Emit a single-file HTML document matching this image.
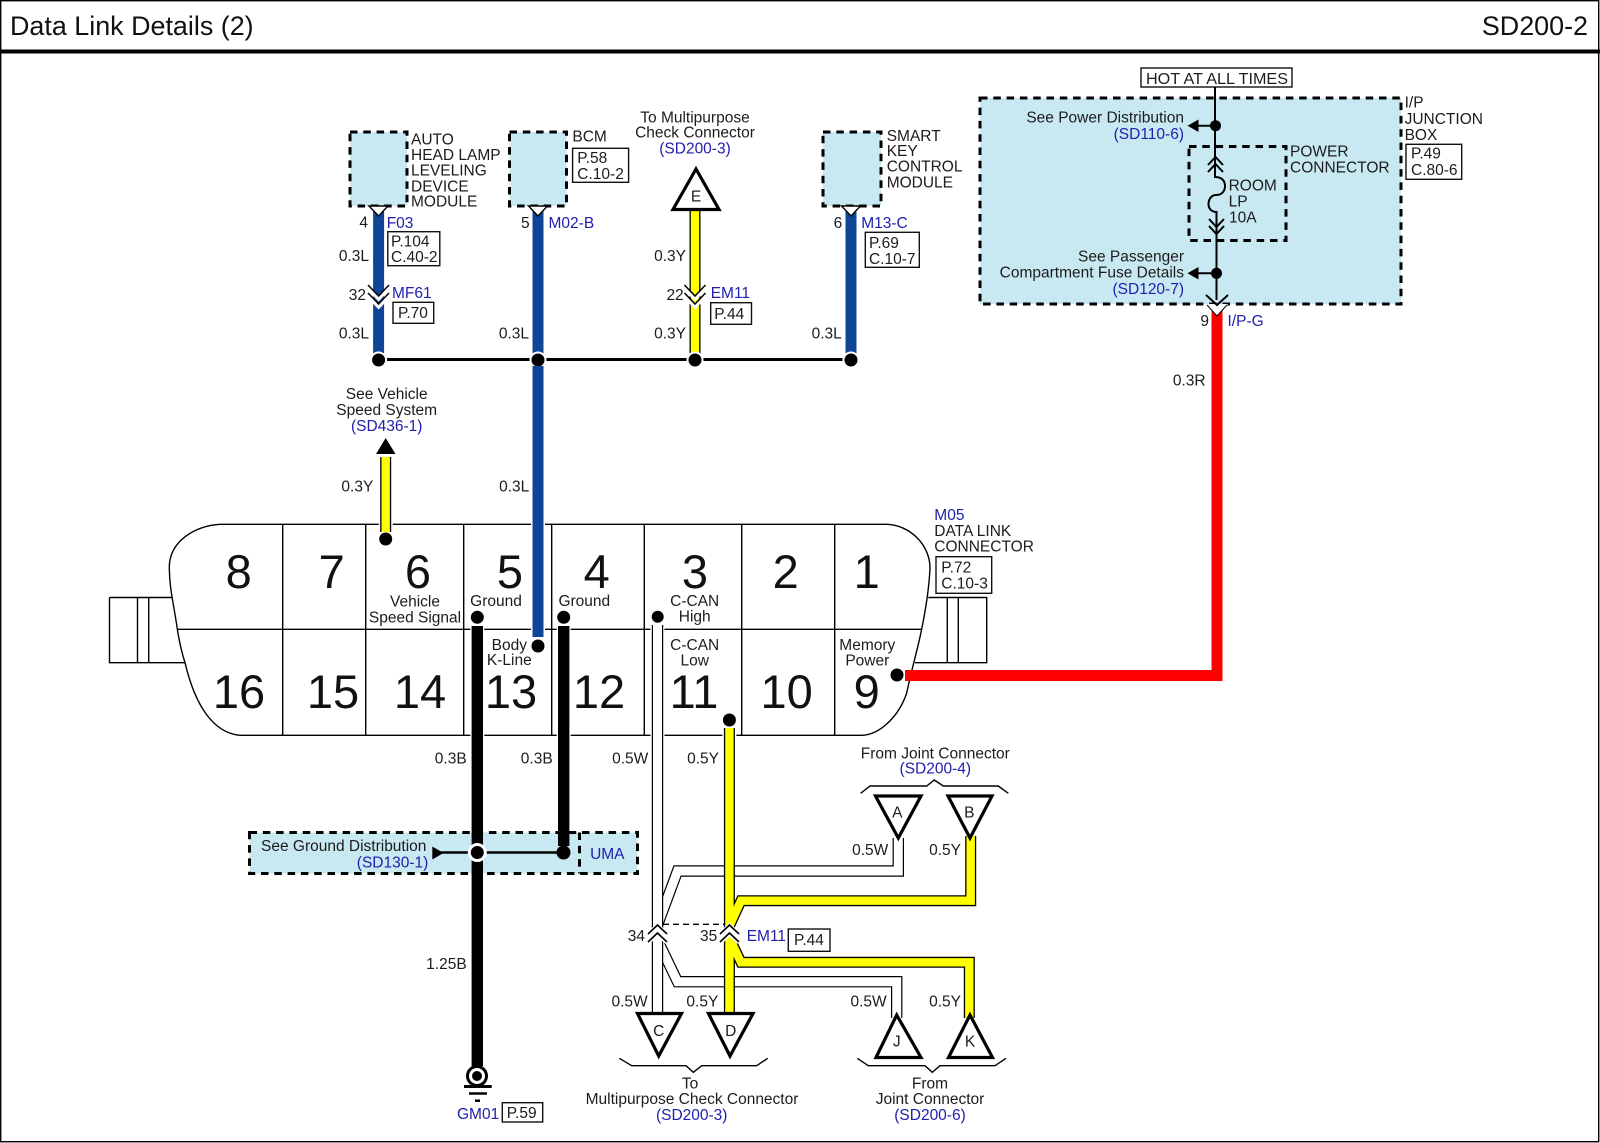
<!DOCTYPE html>
<html><head><meta charset="utf-8"><title>Data Link Details (2)</title>
<style>
html,body{margin:0;padding:0;background:#fff}
svg{display:block}
text{font-family:"Liberation Sans",sans-serif;font-size:15.5px;fill:#1c1c1c}
.r{text-anchor:end}.m{text-anchor:middle}
.b{fill:#2020ae}
.n{font-size:47px;text-anchor:middle;fill:#111}
.t{font-size:26.9px;fill:#111}
.box{fill:#fff;stroke:#111;stroke-width:1.4}
.dash{fill:#c8e9f2;stroke:#000;stroke-width:3;stroke-dasharray:7.5 5.8}
.thin{fill:none;stroke:#000;stroke-width:1.4}
.med{fill:none;stroke:#000;stroke-width:2}
.tri{fill:#fff;stroke:#000;stroke-width:3.2;stroke-linejoin:miter}
.halo{fill:none;stroke:#fff;stroke-width:14}
.bk{fill:none;stroke:#000;stroke-width:11.4}
.bl{fill:none;stroke:#0f4597;stroke-width:11}
.ykb{fill:none;stroke:#000;stroke-width:11;stroke-linejoin:miter}
.yk{fill:none;stroke:#ffff00;stroke-width:8.4;stroke-linejoin:miter}
.wkb{fill:none;stroke:#000;stroke-width:11.4;stroke-linejoin:miter}
.wk{fill:none;stroke:#fff;stroke-width:9}
</style></head><body>
<svg width="1600" height="1143" viewBox="0 0 1600 1143" xmlns="http://www.w3.org/2000/svg">
<rect width="1600" height="1143" fill="#fff"/>
<rect x="0.7" y="0.7" width="1598" height="1141" fill="none" stroke="#000" stroke-width="1.4"/>
<rect x="0" y="49.5" width="1600" height="4" fill="#000"/>
<text class="t" x="10" y="35">Data Link Details (2)</text>
<text class="t r" x="1588" y="35">SD200-2</text>

<!-- modules -->
<rect class="dash" x="350" y="132" width="57" height="74"/>
<rect class="dash" x="509.500" y="132" width="57" height="74"/>
<rect class="dash" x="823" y="132" width="58" height="74"/>
<rect class="dash" x="980" y="98" width="421" height="206"/>
<rect class="dash" x="1189" y="146.500" width="97" height="94"/>
<rect class="dash" x="249.500" y="832.500" width="388" height="41"/>
<line x1="579.500" y1="832.500" x2="579.500" y2="873.500" stroke="#000" stroke-width="3" stroke-dasharray="7.5 5.8"/>

<text x="411" y="144.300">AUTO</text><text x="411" y="160">HEAD LAMP</text><text x="411" y="175.700">LEVELING</text><text x="411" y="191.700">DEVICE</text><text x="411" y="206.700">MODULE</text>
<text x="572.400" y="141.700">BCM</text>
<rect class="box" x="572.600" y="148.300" width="56" height="34"/>
<text x="577.300" y="163">P.58</text><text x="577.300" y="179">C.10-2</text>
<text class="m" x="695" y="122.700">To Multipurpose</text><text class="m" x="695" y="137.700">Check Connector</text><text class="m b" x="695" y="153.300">(SD200-3)</text>
<text x="886.700" y="141">SMART</text><text x="886.700" y="156">KEY</text><text x="886.700" y="171.700">CONTROL</text><text x="886.700" y="187.700">MODULE</text>

<!-- top wires -->
<line class="bl" x1="378.600" y1="206" x2="378.600" y2="356"/>
<line class="bl" x1="538" y1="206" x2="538" y2="637"/>
<line class="bl" x1="851" y1="206" x2="851" y2="356"/>
<line class="ykb" x1="695" y1="210" x2="695" y2="354"/>
<line class="yk" x1="695" y1="210" x2="695" y2="354"/>
<polygon class="tri" points="696,169 673,209.500 719,209.500"/>
<text class="m" x="696" y="201.700">E</text>

<line x1="378" y1="359.500" x2="851" y2="359.500" stroke="#000" stroke-width="3"/>
<g fill="#000" stroke="#fff" stroke-width="2">
<circle cx="378.600" cy="360" r="7.500"/><circle cx="538" cy="360" r="7.500"/><circle cx="695" cy="360" r="7.500"/><circle cx="851" cy="360" r="7.500"/>
</g>

<!-- chevrons on top -->
<g stroke-linejoin="miter">
<polygon points="369,206 378.600,216 388,206" fill="#fff" stroke="#000" stroke-width="1.4"/>
<polygon points="528.500,206 538,216 547.500,206" fill="#fff" stroke="#000" stroke-width="1.4"/>
<polygon points="841.500,206 851,216 860.500,206" fill="#fff" stroke="#000" stroke-width="1.4"/>
<polyline points="368,288 378.600,299 389,288" fill="none" stroke="#fff" stroke-width="3.5"/>
<polyline points="368,285 378.600,296 389,285" fill="none" stroke="#000" stroke-width="1.5"/>
<polyline points="368,296 378.600,307 389,296" fill="none" stroke="#fff" stroke-width="3.5"/>
<polyline points="368,293 378.600,304 389,293" fill="none" stroke="#000" stroke-width="1.5"/>
<polyline points="684.500,288 695,299 705.500,288" fill="none" stroke="#fff" stroke-width="3.5"/>
<polyline points="684.500,285 695,296 705.500,285" fill="none" stroke="#000" stroke-width="1.5"/>
<polyline points="684.500,296 695,307 705.500,296" fill="none" stroke="#fff" stroke-width="3.5"/>
<polyline points="684.500,293 695,304 705.500,293" fill="none" stroke="#000" stroke-width="1.5"/>
</g>

<text class="r" x="368" y="227.700">4</text>
<text class="b" x="386.700" y="228">F03</text>
<rect class="box" x="387.800" y="231.700" width="52" height="34"/>
<text x="391" y="246.700">P.104</text><text x="391" y="262">C.40-2</text>
<text class="r" x="369" y="261">0.3L</text>
<text class="r" x="366" y="300">32</text>
<text class="b" x="392" y="298">MF61</text>
<rect class="box" x="393" y="302.300" width="40.700" height="21"/>
<text x="398" y="318">P.70</text>
<text class="r" x="369" y="338.700">0.3L</text>
<text class="r" x="529.600" y="228">5</text>
<text class="b" x="548.500" y="228">M02-B</text>
<text class="r" x="529" y="338.700">0.3L</text>
<text class="r" x="686" y="261">0.3Y</text>
<text class="r" x="683.700" y="300">22</text>
<text class="b" x="710.700" y="298">EM11</text>
<rect class="box" x="710.700" y="302.700" width="40.800" height="21.600"/>
<text x="714.300" y="319">P.44</text>
<text class="r" x="686" y="338.700">0.3Y</text>
<text class="r" x="842.300" y="228">6</text>
<text class="b" x="861.200" y="228">M13-C</text>
<rect class="box" x="865.300" y="232.300" width="54" height="35"/>
<text x="869" y="248">P.69</text><text x="869" y="264">C.10-7</text>
<text class="r" x="841.800" y="338.700">0.3L</text>

<!-- junction box -->
<rect class="box" x="1141" y="68" width="151" height="19"/>
<text x="1146" y="84" textLength="142" lengthAdjust="spacingAndGlyphs">HOT AT ALL TIMES</text>
<text x="1404.600" y="107.700">I/P</text><text x="1404.600" y="124">JUNCTION</text><text x="1404.600" y="140">BOX</text>
<rect class="box" x="1406" y="144.300" width="55.700" height="35"/>
<text x="1411" y="158.700">P.49</text><text x="1411" y="175">C.80-6</text>
<text class="r" x="1184" y="122.700">See Power Distribution</text><text class="r b" x="1184" y="139">(SD110-6)</text>
<text class="r" x="1184" y="261.700">See Passenger</text><text class="r" x="1184" y="277.700">Compartment Fuse Details</text><text class="r b" x="1184" y="294">(SD120-7)</text>
<text x="1290" y="156.700">POWER</text><text x="1290" y="172.700">CONNECTOR</text>
<text x="1228.600" y="190.700">ROOM</text><text x="1228.600" y="206.700">LP</text><text x="1229" y="222.700">10A</text>
<path class="med" d="M1215 87V177C1222 177 1225 181 1225 186C1225 191 1222 195 1216 195C1211 195 1208.500 200 1208.500 204C1208.500 208 1211 212 1216.500 212V300"/>
<polyline class="med" points="1208,165 1215.500,157 1223,165"/>
<polyline class="med" points="1208,172 1215.500,164 1223,172"/>
<polyline class="med" points="1209,219 1216.500,227 1224,219"/>
<polyline class="med" points="1209,226 1216.500,234 1224,226"/>
<circle cx="1215.500" cy="125.700" r="5.500" fill="#000"/>
<circle cx="1216.500" cy="273.300" r="5.500" fill="#000"/>
<line x1="1196" y1="125.700" x2="1215" y2="125.700" stroke="#000" stroke-width="2"/>
<polygon points="1187.500,125.700 1198.500,119.500 1198.500,132" fill="#000"/>
<line x1="1196" y1="273.300" x2="1215" y2="273.300" stroke="#000" stroke-width="2"/>
<polygon points="1187.500,273.300 1198.500,267 1198.500,279.500" fill="#000"/>

<!-- connector body -->
<path class="thin" d="M109.500 597.500H171.500M109.500 597.500V662.700H185M137.500 597.500V662.700M148.700 597.500V662.700"/>
<path class="thin" d="M928.300 597.500H986.700V662.700H915M947.300 597.500V662.700M958.300 597.500V662.700"/>
<path fill="#fff" stroke="#000" stroke-width="1.400" d="M220 524.300H886.700C910 525 930 545 930 568C929 590 926 608 921.700 629C918 648 911 672 906.700 693C899 716 880 735 861.700 735.300H240C213 733 195 705 185 662.700C181 650 179 640 177.300 629C174 605 169.500 590 169.300 568C169 541 195 526 220 524.300Z"/>
<path class="thin" d="M177.300 629.300H921.700M282.700 524.300V735.300M365.700 524.300V735.300M463.700 524.300V735.300M551.700 524.300V735.300M644.300 524.300V735.300M741.700 524.300V735.300M834.700 524.300V735.300"/>
<g>
<text class="n" x="238.700" y="588">8</text><text class="n" x="331.700" y="588">7</text><text class="n" x="418" y="588">6</text><text class="n" x="510" y="588">5</text><text class="n" x="596.700" y="588">4</text><text class="n" x="695" y="588">3</text><text class="n" x="785.700" y="588">2</text><text class="n" x="866.700" y="588">1</text>
<text class="n" x="239" y="708">16</text><text class="n" x="333" y="708">15</text><text class="n" x="420" y="708">14</text><text class="n" x="511" y="708">13</text><text class="n" x="599" y="708">12</text><text class="n" x="694" y="708">11</text><text class="n" x="786.700" y="708">10</text><text class="n" x="866.700" y="708">9</text>
</g>
<text class="m" x="415" y="606.700">Vehicle</text><text class="m" x="415" y="622.700">Speed Signal</text>
<text class="m" x="496" y="606">Ground</text><text class="m" x="584.300" y="606">Ground</text>
<text class="m" x="509.300" y="650">Body</text><text class="m" x="509.300" y="665">K-Line</text>
<text class="m" x="694.700" y="606">C-CAN</text><text class="m" x="694.700" y="621.700">High</text>
<text class="m" x="694.700" y="650">C-CAN</text><text class="m" x="694.700" y="665.700">Low</text>
<text class="m" x="867.300" y="650">Memory</text><text class="m" x="867.300" y="665.700">Power</text>
<text class="b" x="934.300" y="520">M05</text><text x="934.300" y="536">DATA LINK</text><text x="934.300" y="551.700">CONNECTOR</text>
<rect class="box" x="936" y="556.700" width="55.700" height="36.600"/>
<text x="941.300" y="572.700">P.72</text><text x="941.300" y="588.300">C.10-3</text>

<!-- wires to connector: halos -->
<line class="halo" x1="538" y1="500" x2="538" y2="639"/>
<line class="bl" x1="538" y1="366" x2="538" y2="637"/>
<circle cx="538" cy="646" r="6.500" fill="#000"/>
<line class="halo" x1="385.700" y1="500" x2="385.700" y2="533"/>
<line class="ykb" x1="385.700" y1="457" x2="385.700" y2="532"/>
<line class="yk" x1="385.700" y1="457" x2="385.700" y2="532"/>
<circle cx="385.700" cy="539" r="6.500" fill="#000"/>
<polygon points="385.700,438 376,454 395.500,454" fill="#000"/>
<text class="m" x="386.700" y="399">See Vehicle</text><text class="m" x="386.700" y="415">Speed System</text><text class="m b" x="386.700" y="431">(SD436-1)</text>
<text class="r" x="373.300" y="491.700">0.3Y</text><text class="r" x="529.300" y="491.700">0.3L</text>

<!-- red -->
<path fill="none" stroke="#ff0000" stroke-width="11" stroke-linejoin="miter" d="M905 675.500H1217V306"/>
<polygon points="1206,304 1217,316 1228,304" fill="#fff"/>
<polyline class="med" points="1206,295 1217,305 1228,295"/>
<polyline points="1207,305 1217,316 1227,305" fill="none" stroke="#000" stroke-width="1"/>
<circle cx="897" cy="675" r="6.500" fill="#000"/>
<text class="r" x="1209" y="326">9</text><text class="b" x="1227.500" y="326">I/P-G</text>
<text class="r" x="1205.600" y="385.700">0.3R</text>

<!-- black wires -->
<line class="halo" x1="477.300" y1="624" x2="477.300" y2="740"/>
<line class="halo" x1="563.700" y1="624" x2="563.700" y2="740"/>
<line class="bk" x1="477.300" y1="626" x2="477.300" y2="1066"/>
<line class="bk" x1="563.700" y1="626" x2="563.700" y2="846"/>
<circle cx="477.300" cy="617.300" r="6.500" fill="#000"/>
<circle cx="563.700" cy="617.300" r="6.500" fill="#000"/>
<text class="r" x="466.700" y="763.300">0.3B</text><text class="r" x="552.700" y="763.300">0.3B</text>
<text class="r" x="466.700" y="969">1.25B</text>

<!-- ground bus -->
<text x="261" y="851">See Ground Distribution</text><text class="r b" x="428.300" y="867.300">(SD130-1)</text>
<text class="m b" x="607.300" y="859">UMA</text>
<polygon points="443.500,853 432.300,846.500 432.300,859.500" fill="#000"/>
<line x1="440" y1="852.500" x2="563" y2="852.500" stroke="#000" stroke-width="2.500"/>
<circle cx="477.300" cy="852.500" r="8" fill="#000" stroke="#fff" stroke-width="3"/>
<circle cx="563.500" cy="852.500" r="7" fill="#000"/>

<!-- ground symbol -->
<circle cx="477" cy="1076" r="9.500" fill="#fff" stroke="#000" stroke-width="3"/>
<circle cx="477" cy="1076" r="5" fill="#000"/>
<path d="M464 1086.500H491.700" stroke="#000" stroke-width="3"/>
<path d="M469 1093.500H487" stroke="#000" stroke-width="2.500"/>
<path d="M475 1100.700H480" stroke="#000" stroke-width="2.500"/>
<text class="b" x="457" y="1119">GM01</text>
<rect class="box" x="502.300" y="1102.700" width="40.400" height="19.300"/>
<text x="506.700" y="1118">P.59</text>

<!-- white wires -->
<line class="halo" x1="657.500" y1="624" x2="657.500" y2="740" stroke-width="13"/>
<polyline class="wkb" fill="none" points="657.500,925 677.500,871 898.300,871 898.300,838"/>
<polyline class="wk" fill="none" points="657.500,925 677.500,871 898.300,871 898.300,838"/>
<polyline class="wkb" fill="none" points="657.500,940 677.500,981.700 896.700,981.700 896.700,1018"/>
<polyline class="wk" fill="none" points="657.500,940 677.500,981.700 896.700,981.700 896.700,1018"/>
<line class="wkb" x1="657.500" y1="625" x2="657.500" y2="1013"/>
<line class="wk" x1="657.500" y1="625" x2="657.500" y2="1013"/>
<circle cx="657.700" cy="616.700" r="6" fill="#000"/>

<!-- yellow wires -->
<line class="halo" x1="729.400" y1="726" x2="729.400" y2="740"/>
<polyline class="ykb" points="729.400,926 741,900.700 970.700,900.700 970.700,836"/>
<polyline class="ykb" points="729.400,938 741,962.300 969.300,962.300 969.300,1018"/>
<line class="ykb" x1="729.400" y1="728" x2="729.400" y2="1013"/>
<polyline class="yk" points="729.400,926 741,900.700 970.700,900.700 970.700,836"/>
<polyline class="yk" points="729.400,938 741,962.300 969.300,962.300 969.300,1018"/>
<line class="yk" x1="729.400" y1="728" x2="729.400" y2="1013"/>
<circle cx="729.400" cy="720" r="6.500" fill="#000"/>

<line x1="663" y1="924.300" x2="724" y2="924.300" stroke="#000" stroke-width="1.300" stroke-dasharray="6 4"/>
<!-- chevrons 34/35 -->
<polyline points="648,935 657.500,926 667,935" fill="none" stroke="#fff" stroke-width="5"/>
<polyline points="648,942 657.500,933 667,942" fill="none" stroke="#fff" stroke-width="5"/>
<polyline points="648,934 657.500,925 667,934" fill="none" stroke="#000" stroke-width="1.6"/>
<polyline points="648,942 657.500,933 667,942" fill="none" stroke="#000" stroke-width="1.6"/>
<polyline points="720,935 729.500,926 739,935" fill="none" stroke="#fff" stroke-width="5"/>
<polyline points="720,942 729.500,933 739,942" fill="none" stroke="#fff" stroke-width="5"/>
<polyline points="720,934 729.500,925 739,934" fill="none" stroke="#000" stroke-width="1.6"/>
<polyline points="720,942 729.500,933 739,942" fill="none" stroke="#000" stroke-width="1.6"/>

<text class="r" x="648.300" y="763.300">0.5W</text><text class="r" x="719" y="763.300">0.5Y</text>
<text class="r" x="645" y="941">34</text><text class="r" x="717.300" y="941">35</text>
<text class="b" x="746.700" y="941">EM11</text>
<rect class="box" x="788.300" y="929" width="41.700" height="22.300"/>
<text x="794" y="945">P.44</text>
<text class="r" x="888.300" y="855">0.5W</text><text class="r" x="961" y="855">0.5Y</text>
<text class="r" x="647.700" y="1006.700">0.5W</text><text class="r" x="718.300" y="1006.700">0.5Y</text>
<text class="r" x="886.700" y="1006.700">0.5W</text><text class="r" x="961" y="1006.700">0.5Y</text>

<!-- triangles -->
<polygon class="tri" points="875.500,796 921,796 898.300,838"/>
<polygon class="tri" points="948,796 992,796 970,838"/>
<polygon class="tri" points="637.500,1013.500 681.500,1013.500 658.700,1056"/>
<polygon class="tri" points="708.500,1013.500 753,1013.500 730,1056"/>
<polygon class="tri" points="876,1057.500 921,1057.500 896.700,1015"/>
<polygon class="tri" points="948.500,1057.500 992.500,1057.500 970,1015"/>
<text class="m" x="897.300" y="817.300">A</text><text class="m" x="969.300" y="817.300">B</text>
<text class="m" x="658.700" y="1036">C</text><text class="m" x="730.700" y="1036">D</text>
<text class="m" x="896.700" y="1046.700">J</text><text class="m" x="970" y="1046.700">K</text>

<!-- braces -->
<polyline class="thin" points="860.700,793.300 870,786 926.700,786 934.300,780 943.300,786 998.300,786 1008.300,793.300"/>
<polyline class="thin" points="619.300,1058.300 631.700,1065.700 686,1065.700 693.300,1072.300 701.700,1065.700 756.700,1065.700 767.700,1058.300"/>
<polyline class="thin" points="857.300,1058.300 868.300,1065.700 925,1065.700 932.300,1072.300 940,1065.700 995,1065.700 1006,1058.300"/>

<text class="m" x="935.300" y="758.300">From Joint Connector</text><text class="m b" x="935.300" y="773.300">(SD200-4)</text>
<text class="m" x="690" y="1088.300">To</text><text class="m" x="692" y="1104">Multipurpose Check Connector</text><text class="m b" x="691.700" y="1120">(SD200-3)</text>
<text class="m" x="930" y="1088.300">From</text><text class="m" x="930" y="1104">Joint Connector</text><text class="m b" x="930" y="1120">(SD200-6)</text>
</svg>
</body></html>
